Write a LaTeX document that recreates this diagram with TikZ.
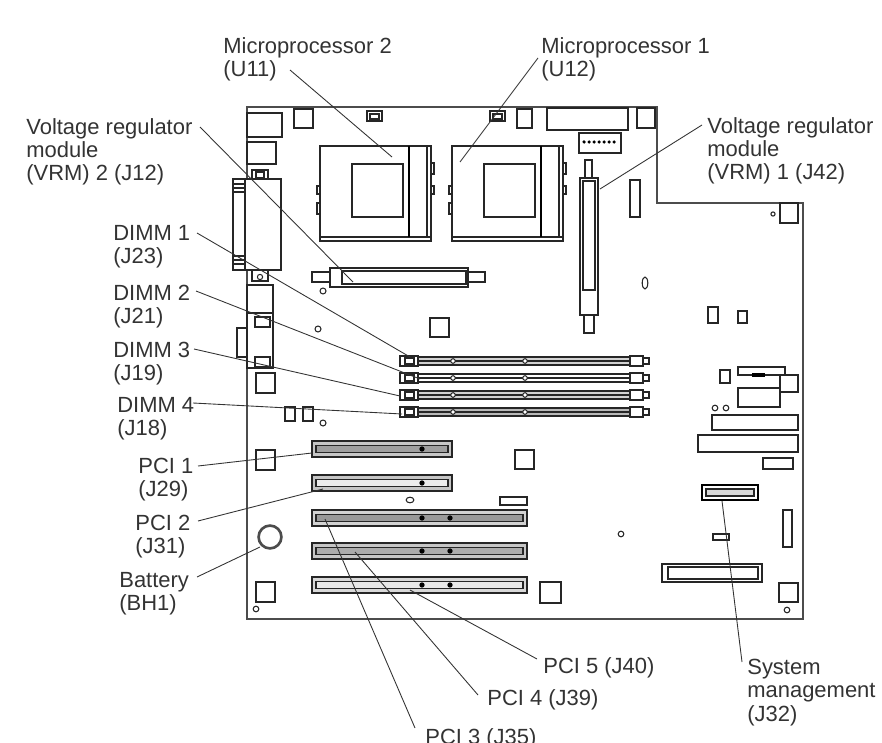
\documentclass[tikz,border=0pt]{standalone}
\usepackage{fontspec}
\setmainfont{Liberation Sans}
\usepackage{tikz}
\usetikzlibrary{positioning,calc}
\tikzstyle{lbl} = [inner sep=0pt,anchor=north west,align=left,text=black!80,font=\fontsize{12.5}{13.2}\selectfont]
\tikzstyle{leader} = [draw=black!80,line width=0.5pt]
\tikzstyle{part} = [draw=black!85,line width=0.6pt]
\tikzstyle{board} = [draw=black!70,line width=1pt]

\begin{document}
\begin{tikzpicture}[x=0.02cm,y=-0.02cm]
	\useasboundingbox (0,0) rectangle (882,743);

	%Board
	\draw[board] (247,107) -- (657,107) -- (657,203) -- (803,203) -- (803,619) -- (247,619) -- cycle;

	%Left edge
	\draw[part] (247,113) rectangle (282,137);
	\draw[part] (247,142) rectangle (276,164);
	\draw[part,fill=white] (252,170) rectangle (268,179);
	\draw[part] (256,172) rectangle (264,178);
	\draw[part,fill=white] (233,179) rectangle (281,270);
	\draw[part] (245,179) -- (245,270);
	\foreach \y in {184,188,192,256,260,264} \draw[part] (233,\y) -- (245,\y);
	\draw[part] (252,270) rectangle (268,281);
	\draw[part] (260,277) circle (1.5pt);
	\draw[part] (247,285) rectangle (273,313);
	\draw[part] (247,313) rectangle (273,368);
	\draw[part] (255,317) rectangle (270,327);
	\draw[part] (255,357) rectangle (270,367);
	\draw[part] (237,328) rectangle (247,357);
	\draw[part] (256,373) rectangle (275,393);
	\draw[part] (256,450) rectangle (275,470);
	\draw[draw=black!70,line width=1.5pt] (270,537) circle (6.5pt);
	\draw[part] (256,582) rectangle (275,602);
	\draw[part] (256,609) circle (1.6pt);

	%Top row
	\draw[part] (294,109) rectangle (313,128);
	\draw[part] (367,111) rectangle (382,121);
	\draw[part] (370,114) rectangle (379,119);
	\draw[part] (490,111) rectangle (505,121);
	\draw[part] (493,114) rectangle (502,119);
	\draw[part] (517,109) rectangle (532,128);

	%Sockets
	\foreach \dx in {0,132} {
		\draw[part] (320+\dx,146) rectangle (431+\dx,241);
		\draw[part] (320+\dx,237) -- (431+\dx,237);
		\draw[part] (352+\dx,164) rectangle (403+\dx,217);
		\draw[line width=1.3pt] (409+\dx,146) -- (409+\dx,237);
		\draw[part] (427+\dx,146) -- (427+\dx,237);
		\draw[part] (317+\dx,186) rectangle (320+\dx,194);
		\draw[part] (317+\dx,203) rectangle (320+\dx,214);
		\draw[part] (431+\dx,163) rectangle (434+\dx,174);
		\draw[part] (431+\dx,186) rectangle (434+\dx,194);
	}

	%VRM slots
	\draw[part] (330,268) rectangle (468,287);
	\draw[part] (342,271) rectangle (466,284);
	\draw[part] (312,272) rectangle (330,282);
	\draw[part] (468,272) rectangle (485,282);
	\draw[part] (323,291) circle (1.7pt);
	\draw[part] (580,178) rectangle (598,315);
	\draw[part] (583,181) rectangle (595,290);
	\draw[part] (585,160) rectangle (592,178);
	\draw[part] (584,315) rectangle (594,333);

	%Top right
	\draw[part,line width=1pt] (547,108) rectangle (628,130);
	\draw[part] (579,133) rectangle (621,153);
	\foreach \x in {584,589,...,616} \fill (\x,142) circle (1pt);
	\draw[part] (637,108) rectangle (655,128);
	\draw[part] (630,180) rectangle (640,217);
	\draw[part] (780,203) rectangle (798,223);
	\draw[part] (773,214) circle (1.2pt);
	\draw[part] (645,283) ellipse (1.6pt and 3.4pt);

	%Middle
	\draw[part] (430,318) rectangle (449,337);
	\draw[part] (318,329) circle (1.7pt);
	\draw[part] (285,407) rectangle (295,421);
	\draw[part] (303,407) rectangle (313,421);
	\draw[part] (323,423) circle (1.7pt);

	%DIMM slots
	\foreach \y/\c in {361/gray!35,378/white,395/gray!35,412/gray!55} {
		\draw[part,fill=\c] (418,\y-4) rectangle (630,\y+4);
		\draw[part] (418,\y) -- (630,\y);
		\draw[part,fill=white] (400,\y-5) rectangle (418,\y+5);
		\draw[part] (405,\y-3) rectangle (414,\y+3);
		\draw[part,fill=white] (630,\y-5) rectangle (643,\y+5);
		\draw[part] (643,\y-3) rectangle (649,\y+3);
		\draw[part,fill=white] (453,\y) circle (1.3pt);
		\draw[part,fill=white] (525,\y) circle (1.3pt);
	}

	%PCI slots
	\foreach \y/\w/\o/\i in {449/452/gray!45/gray!75,483/452/gray!45/gray!15,518/527/gray!35/gray!80,551/527/gray!45/gray!65,585/527/gray!30/gray!18} {
		\draw[part,fill=\o] (312,\y-8) rectangle (\w,\y+8);
		\draw[part,fill=\i] (316,\y-3.5) rectangle (\w-4,\y+3.5);
		\fill (422,\y) circle (1.5pt);
	}
	\foreach \y in {518,551,585} \fill (450,\y) circle (1.5pt);
	\draw[part] (500,497) rectangle (527,505);
	\draw[part] (410,500) ellipse (2.2pt and 1.6pt);
	\draw[part] (515,450) rectangle (534,469);

	%Right side
	\draw[part] (708,307) rectangle (718,323);
	\draw[part] (738,311) rectangle (747,323);
	\draw[part] (720,370) rectangle (730,383);
	\draw[part] (738,367) rectangle (785,375);
	\fill (752,373) rectangle (765,377);
	\draw[part] (780,375) rectangle (798,392);
	\draw[part] (738,388) rectangle (780,407);
	\draw[part] (715,408) circle (1.6pt);
	\draw[part] (726,408) circle (1.6pt);
	\draw[part] (712,415) rectangle (798,430);
	\draw[part] (698,435) rectangle (798,452);
	\draw[part] (763,458) rectangle (793,469);
	\draw[line width=1.5pt] (702,485) rectangle (758,500);
	\draw[part,fill=gray!30] (706,489) rectangle (754,496);
	\draw[part] (713,534) rectangle (729,540);
	\draw[part] (783,510) rectangle (792,547);
	\draw[part] (662,564) rectangle (762,582);
	\draw[part] (668,567) rectangle (758,579);
	\draw[part] (540,582) rectangle (561,603);
	\draw[part] (779,583) rectangle (798,602);
	\draw[part] (787,610) circle (1.6pt);
	\draw[part] (621,534) circle (1.6pt);

	%Nodes
	\node[lbl] (mp2lbl) at (223,37) {Microprocessor 2\\(U11)};
	\node[lbl] (mp1lbl) at (541,37) {Microprocessor 1\\(U12)};
	\node[lbl] (vrm2lbl) at (26,118) {Voltage regulator\\module\\(VRM) 2 (J12)};
	\node[lbl] (vrm1lbl) at (707,117) {Voltage regulator\\module\\(VRM) 1 (J42)};
	\node[lbl] (dimm1lbl) at (113,225) {DIMM 1\\(J23)};
	\node[lbl] (dimm2lbl) at (113,285) {DIMM 2\\(J21)};
	\node[lbl] (dimm3lbl) at (113,342) {DIMM 3\\(J19)};
	\node[lbl] (dimm4lbl) at (117,397) {DIMM 4\\(J18)};
	\node[lbl] (pci1lbl) at (138,458) {PCI 1\\(J29)};
	\node[lbl] (pci2lbl) at (135,515) {PCI 2\\(J31)};
	\node[lbl] (batlbl) at (119,572) {Battery\\(BH1)};
	\node[lbl] (pci5lbl) at (543,657) {PCI 5 (J40)};
	\node[lbl] (pci4lbl) at (487,689) {PCI 4 (J39)};
	\node[lbl] (pci3lbl) at (425,728) {PCI 3 (J35)};
	\node[lbl] (syslbl) at (747,659) {System\\management\\(J32)};

	\coordinate (mp2) at (392,157);
	\coordinate (mp1) at (460,162);
	\coordinate (vrm2) at (353,282);
	\coordinate (vrm1) at (600,189);
	\coordinate (dimm1) at (410,357);
	\coordinate (dimm2) at (420,379);
	\coordinate (dimm3) at (400,396);
	\coordinate (dimm4) at (402,414);
	\coordinate (pci1) at (312,453);
	\coordinate (pci2) at (323,489);
	\coordinate (bat) at (260,547);
	\coordinate (pci3) at (325,519);
	\coordinate (pci4) at (355,552);
	\coordinate (pci5) at (410,590);
	\coordinate (sysm) at (722,501);

	%Lines
	\draw[leader] ([shift={(67,33)}]mp2lbl.north west) -- (mp2);
	\draw[leader] ([shift={(-3,21)}]mp1lbl.north west) -- (mp1);
	\draw[leader] ([shift={(174,9)}]vrm2lbl.north west) -- (vrm2);
	\draw[leader] ([shift={(-5,8)}]vrm1lbl.north west) -- (vrm1);
	\draw[leader] ([shift={(84,8)}]dimm1lbl.north west) -- (dimm1);
	\draw[leader] ([shift={(83,6)}]dimm2lbl.north west) -- (dimm2);
	\draw[leader] ([shift={(81,7)}]dimm3lbl.north west) -- (dimm3);
	\draw[leader] ([shift={(76,6)}]dimm4lbl.north west) -- (dimm4);
	\draw[leader] ([shift={(60,8)}]pci1lbl.north west) -- (pci1);
	\draw[leader] ([shift={(63,6)}]pci2lbl.north west) -- (pci2);
	\draw[leader] ([shift={(78,5)}]batlbl.north west) -- (bat);
	\draw[leader] ([shift={(-10,0)}]pci3lbl.north west) -- (pci3);
	\draw[leader] ([shift={(-9,6)}]pci4lbl.north west) -- (pci4);
	\draw[leader] ([shift={(-6,2)}]pci5lbl.north west) -- (pci5);
	\draw[leader] ([shift={(-5,3)}]syslbl.north west) -- (sysm);
\end{tikzpicture}
\end{document}
